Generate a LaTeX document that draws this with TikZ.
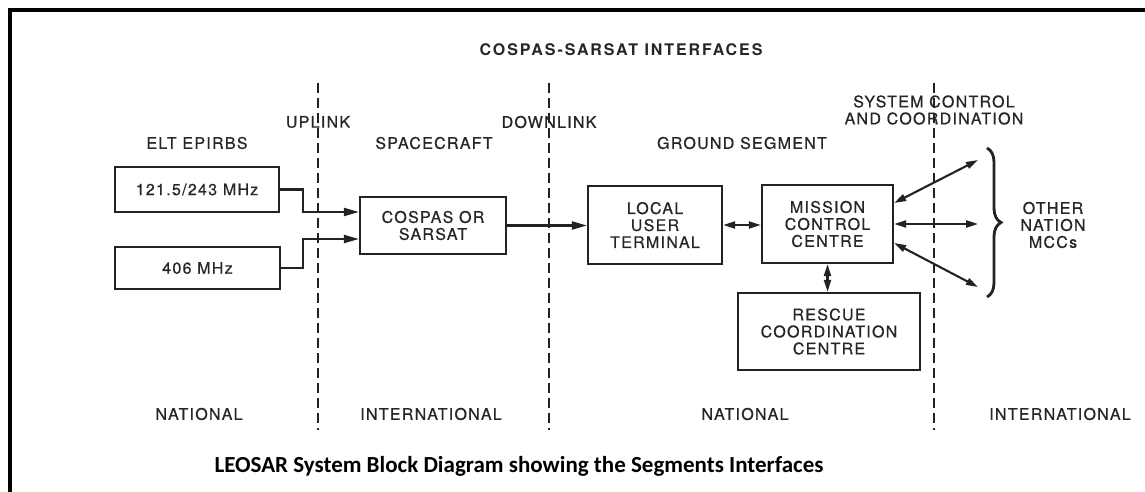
\documentclass[tikz,border=0pt]{standalone}
\usepackage{fontspec}
\setmainfont{TeX Gyre Heros}[LetterSpace=12]
\newfontfamily\diafont{TeX Gyre Heros}[LetterSpace=8,FakeBold=0.6]
\newfontfamily\capfont{Carlito}
\usetikzlibrary{arrows.meta,decorations.pathreplacing,calc}
\definecolor{ink}{HTML}{262626}
\definecolor{lineink}{HTML}{222222}
\begin{document}
\begin{tikzpicture}[x=1pt,y=-1pt,
  box/.style={draw=lineink,line width=2.2pt,inner sep=0pt,align=center,text=ink,font=\diafont\fontsize{16}{17}\selectfont},
  lbl/.style={text=ink,inner sep=0pt,align=center,font=\diafont\fontsize{16}{17}\selectfont},
  arr/.style={draw=lineink,line width=2.1pt,-{Triangle[length=15pt,width=8pt]}},
  darr/.style={draw=lineink,line width=2.1pt,{Triangle[length=12pt,width=7pt]}-{Triangle[length=12pt,width=7pt]}},
  sepline/.style={draw=lineink,line width=2pt,dash pattern=on 10pt off 5pt}]
\useasboundingbox (0,0) rectangle (1145,492);
\fill[white] (0,0) rectangle (1145,492);
% frame
\draw[line width=3.2pt] (10,500) -- (10,10) -- (1150,10);
% title
\node[text=ink,inner sep=0pt,font=\bfseries\fontsize{16}{19}\selectfont] (title) at (621,50) {COSPAS-SARSAT INTERFACES};
% separators
\coordinate (u1) at (318,83); \coordinate (u2) at (318,430);
\coordinate (d1) at (549,83); \coordinate (d2) at (549,430);
\coordinate (s1) at (934,83); \coordinate (s2) at (934,430);
\draw[sepline] (u1) -- (u2);
\draw[sepline] (d1) -- (d2);
\draw[sepline] (s1) -- (s2);
% top labels
\node[lbl] (uplink) at (318,122) {UPLINK};
\node[lbl] (downlink) at (549,122) {DOWNLINK};
\node[lbl] (syscc) at (934,110) {SYSTEM CONTROL\\AND COORDINATION};
\node[lbl] (elt) at (197,143) {ELT EPIRBS};
\node[lbl] (space) at (434,143) {SPACECRAFT};
\node[lbl] (ground) at (742,143) {GROUND SEGMENT};
% boxes
\node[box,minimum width=164pt,minimum height=45pt] (f121) at (197,189.5) {121.5/243 MHz};
\node[box,minimum width=165pt,minimum height=42pt] (f406) at (197.5,268) {406 MHz};
\node[box,minimum width=146pt,minimum height=57pt] (cos) at (433,225.5) {COSPAS OR\\SARSAT};
\node[box,minimum width=134pt,minimum height=78pt] (lut) at (655,225) {LOCAL\\USER\\TERMINAL};
\node[box,minimum width=131pt,minimum height=78pt] (mcc) at (827.5,224) {MISSION\\CONTROL\\CENTRE};
\node[box,minimum width=182pt,minimum height=77pt] (rcc) at (829,331.5) {RESCUE\\COORDINATION\\CENTRE};
% connectors
\draw[arr] (f121.east) -- ++(23,0) |- ($(cos.west)+(0,-13.5)$);
\draw[arr] (f406.east) -- ++(22,0) |- ($(cos.west)+(0,13.5)$);
\draw[arr] (cos.east) -- (cos.east -| lut.west);
\draw[darr] (lut.east) -- (lut.east -| mcc.west);
\draw[darr] (mcc.south) -- (mcc.south |- rcc.north);
\coordinate (o1) at (978,160);
\coordinate (o2) at (978,224);
\coordinate (o3) at (978,287);
\draw[darr] ($(mcc.east)+(0,-21)$) -- (o1);
\draw[darr] (mcc.east) -- (o2);
\draw[darr] ($(mcc.east)+(0,19)$) -- (o3);
% brace
\coordinate (b1) at (987,148);
\coordinate (b2) at (987,297);
\draw[lineink,line width=2.8pt,decorate,decoration={brace,amplitude=14pt}] (b1) -- (b2);
\node[lbl] (other) at (1053,225) {OTHER\\NATION\\MCCs};
% bottom labels
\node[lbl] (nat1) at (199,414) {NATIONAL};
\node[lbl] (int1) at (431,414) {INTERNATIONAL};
\node[lbl] (nat2) at (745,414) {NATIONAL};
\node[lbl] (int2) at (1060,414) {INTERNATIONAL};
% caption
\node[inner sep=0pt,font=\capfont\bfseries\fontsize{23}{27}\selectfont] (cap) at (519,466) {LEOSAR System Block Diagram showing the Segments Interfaces};
\end{tikzpicture}
\end{document}
